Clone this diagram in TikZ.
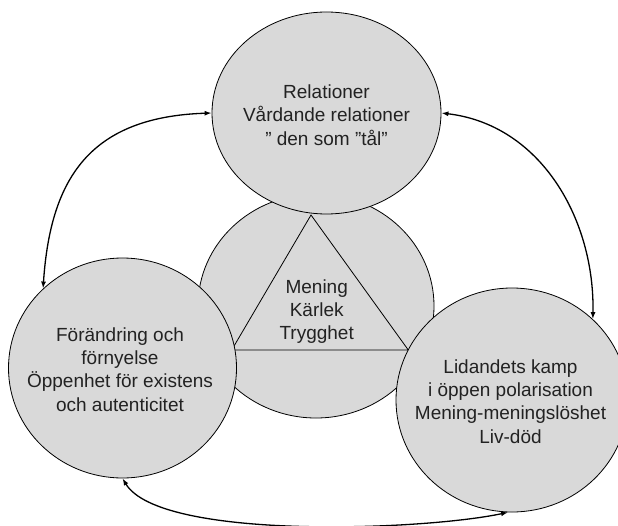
\documentclass[tikz,border=0pt]{standalone}
\usepackage{fontspec}
\setmainfont{Liberation Sans}
\usetikzlibrary{shapes.geometric,arrows.meta}
\definecolor{discfill}{HTML}{D9D9D9}
\definecolor{inktext}{HTML}{222222}
\begin{document}
\begin{tikzpicture}[x=1bp,y=-1bp,
  disc/.style={ellipse, draw=black, line width=0.8bp, fill=discfill, inner sep=0pt},
  disctext/.style={align=center, inner sep=0pt, text=inktext,
    font=\fontsize{19bp}{23.3bp}\selectfont},
  link/.style={line width=1.3bp,
    {Latex[length=7bp,width=5bp]}-{Latex[length=7bp,width=5bp]}}
]
\useasboundingbox (0,0) rectangle (618,526);
\fill[white] (0,0) rectangle (618,526);

% central disc with the triangle
\node[disc, minimum width=236bp, minimum height=224bp] (core) at (316,306) {};
\draw[line width=0.8bp] (311,215) -- (231.7,350) -- (408.3,350) -- cycle;
\node[disctext] (coretext) at (316.7,311.5) {Mening\\Kärlek\\Trygghet};

% outer discs
\node[disc, minimum width=229bp, minimum height=202bp] (rel) at (326.5,113) {};
\node[disctext] (reltext) at (326.5,115) {Relationer\\Vårdande relationer\\” den som ”tål”};

\node[disc, minimum width=228bp, minimum height=220bp] (change) at (122.5,368) {};
\node[disctext] (changetext) at (120,369.5) {Förändring och\\förnyelse\\Öppenhet för existens\\och autenticitet};

\node[disc, minimum width=232bp, minimum height=224bp] (suffer) at (512,400) {};
\node[disctext] (suffertext) at (510.5,401.3) {Lidandets kamp\\i öppen polarisation\\Mening-meningslöshet\\Liv-död};

% two-way connectors between the outer discs
\draw[link] (change.135.7) .. controls +(7.3,-110) and +(-122,4) .. (rel.180);
\draw[link] (rel.0) .. controls +(99.3,11.7) and +(2,-100) .. (suffer.45.7);
\draw[link] (change.-90) .. controls +(37.5,62) and +(-86.7,18.3) .. (suffer.-92.7);
\end{tikzpicture}
\end{document}
